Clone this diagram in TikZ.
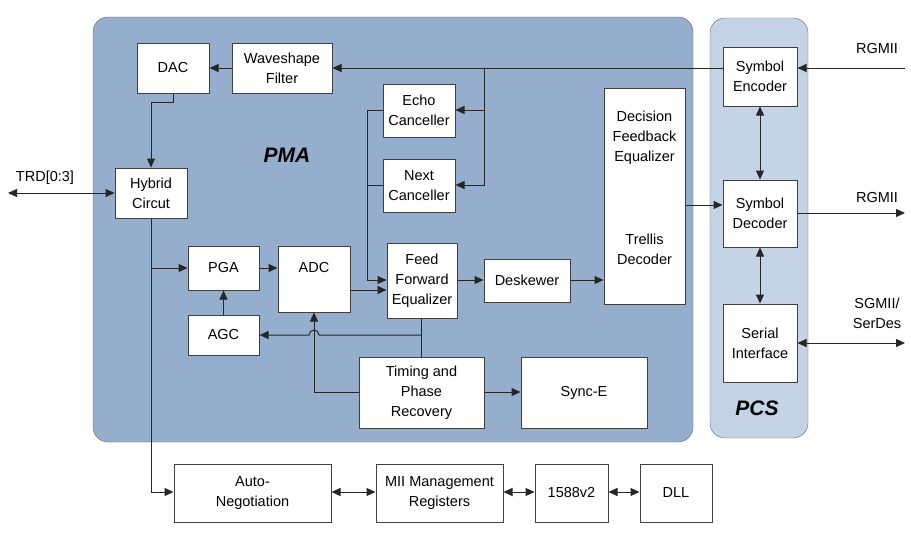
\documentclass[tikz,border=0pt]{standalone}
\usepackage{fontspec}
\setmainfont{Liberation Sans}
\usetikzlibrary{arrows.meta}
\newcommand\bx[6]{\node[box,minimum width={(#4-#2)*1pt},minimum height={(#5-#3)*1pt}] (#1) at ({(#2+#4)/2},{(#3+#5)/2}) {#6};}
\begin{document}
\begin{tikzpicture}[x=1pt,y=-1pt,
  box/.style={draw=black!75,line width=1pt,fill=white,inner sep=1pt,align=center,font=\fontsize{14.5}{20}\selectfont},
  ln/.style={draw=black!85,line width=1pt},
  ar/.style={ln,-{Triangle[length=9pt,width=8pt]}},
  dar/.style={ln,{Triangle[length=9pt,width=8pt]}-{Triangle[length=9pt,width=8pt]}},
  lbl/.style={font=\fontsize{14.5}{18}\selectfont,inner sep=0pt}]
\useasboundingbox (0,0) rectangle (911,544);
\fill[white] (0,0) rectangle (911,544);
\draw[fill={rgb,255:red,149;green,174;blue,206},draw=black!60,rounded corners=15pt] (93,17) rectangle (693,442);
\draw[fill={rgb,255:red,197;green,211;blue,230},draw=black!60,rounded corners=15pt] (710,18) rectangle (808,438);
\node[font=\bfseries\itshape\fontsize{21}{21}\selectfont] (pma) at (287,155) {PMA};
\node[font=\bfseries\itshape\fontsize{21}{21}\selectfont] (pcs) at (757,408) {PCS};
\bx{dac}{137}{43}{209}{93}{DAC}
\bx{wf}{232}{43}{332}{93}{Waveshape\\Filter}
\bx{echo}{383}{84}{455}{137}{Echo\\Canceller}
\bx{next}{383}{159}{455}{212}{Next\\Canceller}
\bx{hyb}{115}{168}{187}{218}{Hybrid\\Circut}
\bx{pga}{188}{246}{259}{290}{PGA}
\node[box,minimum width=72pt,minimum height=66pt] (adc) at (314,279) {};
\node[lbl] (adct) at (314,268) {ADC};
\bx{agc}{188}{315}{259}{355}{AGC}
\bx{ffe}{387}{243}{457}{318}{Feed\\Forward\\Equalizer}
\bx{desk}{484}{259}{570}{302}{Deskewer}
\node[box,minimum width=81pt,minimum height=216pt] (dfe) at (644.5,196) {};
\node[lbl,align=center,font=\fontsize{14.5}{20}\selectfont] (dfet) at (644.5,138) {Decision\\Feedback\\Equalizer};
\node[lbl,align=center,font=\fontsize{14.5}{20}\selectfont] (trel) at (644.5,249) {Trellis\\Decoder};
\bx{tim}{359}{357}{484}{428}{Timing and\\Phase\\Recovery}
\bx{sync}{521}{357}{647}{428}{Sync-E}
\bx{enc}{723}{47}{797}{106}{Symbol\\Encoder}
\bx{dec}{723}{180}{797}{247}{Symbol\\Decoder}
\bx{ser}{723}{304}{797}{382}{Serial\\Interface}
\bx{an}{174}{464}{331}{522}{Auto-\\Negotiation}
\bx{mii}{376}{464}{503}{522}{MII Management\\Registers}
\bx{p1588}{535}{464}{608}{522}{1588v2}
\bx{dll}{640}{464}{712}{522}{DLL}
\coordinate (rgin) at (905,68);
\coordinate (rgout) at (905,213);
\coordinate (sg) at (905,343);
\coordinate (trd) at (8,193);
\node[lbl] (l1) at (877,49) {RGMII};
\node[lbl] (l2) at (877,198) {RGMII};
\node[lbl,align=center,font=\fontsize{14.5}{20}\selectfont] (l3) at (877,313) {SGMII/\\SerDes};
\node[lbl] (l4) at (45,178) {TRD[0:3]};
\draw[ar] (rgin) -- (enc.east|-rgin);
\draw[ar] (enc.west|-rgin) -- (wf.east|-rgin);
\draw[ar] (484,68) -- (484,185) -- (next.east|-0,185);
\draw[ar] (484,110) -- (echo.east|-0,110);
\draw[ar] (wf.west|-0,68) -- (dac.east|-0,68);
\draw[ln] (echo.west|-0,110) -- (367,110);
\draw[ar] (next.west|-0,185) -- (367,185) -- (367,110) (367,185) -- (367,280) -- (ffe.west|-0,280);
\draw[ar] (adc.east|-0,290) -- (ffe.west|-0,290);
\draw[ar] (dac.south) -- (173,102) -- (151,102) -- (hyb.north-|151,0);
\draw[ar] (hyb.south-|151,0) -- (151,492) -- (an.west|-0,492);
\draw[ar] (151,268) -- (pga.west|-0,268);
\draw[ar] (pga.east|-0,268) -- (adc.west|-0,268);
\draw[ar] (agc.north) -- (pga.south);
\draw[ln] (ffe.south-|421,0) -- (tim.north-|421,0);
\draw[ar] (421,335) -- (319,335) arc (0:180:5pt) -- (agc.east|-0,335);
\draw[ar] (tim.west|-0,392) -- (314,392) -- (adc.south);
\draw[ar] (tim.east|-0,392) -- (sync.west|-0,392);
\draw[ar] (ffe.east|-0,280) -- (desk.west|-0,280);
\draw[ar] (desk.east|-0,280) -- (dfe.west|-0,280);
\draw[ar] (dfe.east|-0,205) -- (dec.west|-0,205);
\draw[dar] (enc.south-|760,0) -- (dec.north-|760,0);
\draw[dar] (dec.south-|760,0) -- (ser.north-|760,0);
\draw[ar] (dec.east|-rgout) -- (rgout);
\draw[dar] (ser.east|-sg) -- (sg);
\draw[dar] (trd) -- (hyb.west|-trd);
\draw[dar] (an.east|-0,492) -- (mii.west|-0,492);
\draw[dar] (mii.east|-0,492) -- (p1588.west|-0,492);
\draw[dar] (p1588.east|-0,492) -- (dll.west|-0,492);
\end{tikzpicture}
\end{document}
